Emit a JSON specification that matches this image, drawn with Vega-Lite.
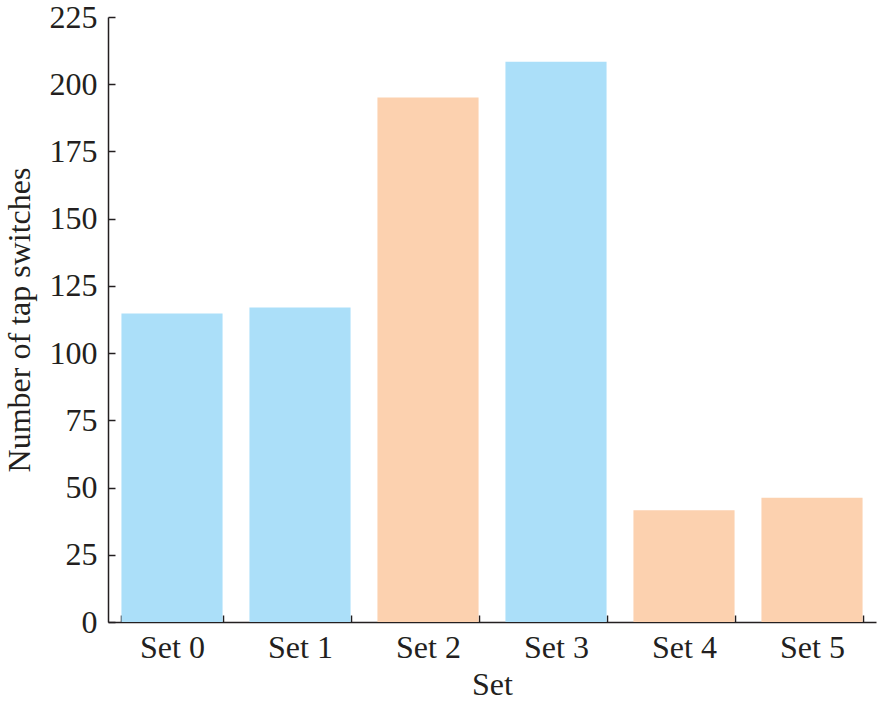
{
  "$schema": "https://vega.github.io/schema/vega-lite/v6.json",
  "width": 768,
  "height": 605,
  "autosize": {"type": "none"},
  "padding": {"left": 108, "top": 17, "right": 1, "bottom": 85},
  "background": "white",
  "config": {
    "view": {"stroke": null},
    "font": "Liberation Serif"
  },
  "data": {
    "values": [
      {"set": "Set 0", "count": 114.7, "group": "A"},
      {"set": "Set 1", "count": 117.0, "group": "A"},
      {"set": "Set 2", "count": 195.1, "group": "B"},
      {"set": "Set 3", "count": 208.4, "group": "A"},
      {"set": "Set 4", "count": 41.6, "group": "B"},
      {"set": "Set 5", "count": 46.2, "group": "B"}
    ]
  },
  "mark": {"type": "bar"},
  "encoding": {
    "x": {
      "field": "set",
      "type": "nominal",
      "title": "Set",
      "scale": {"paddingInner": 0.21, "paddingOuter": 0.105},
      "axis": {
        "labelAngle": 0,
        "labelFont": "Liberation Serif",
        "labelFontSize": 32,
        "labelColor": "#231f20",
        "labelPadding": 17,
        "titleFont": "Liberation Serif",
        "titleFontSize": 32,
        "titleFontWeight": "normal",
        "titleColor": "#231f20",
        "titlePadding": 6,
        "domainColor": "#231f20",
        "domainWidth": 1.5,
        "tickColor": "#231f20",
        "tickWidth": 1.5,
        "tickSize": -7,
        "tickBand": "extent",
        "grid": false
      }
    },
    "y": {
      "field": "count",
      "type": "quantitative",
      "title": "Number of tap switches",
      "scale": {"domain": [0, 225], "nice": false},
      "axis": {
        "values": [0, 25, 50, 75, 100, 125, 150, 175, 200, 225],
        "labelFont": "Liberation Serif",
        "labelFontSize": 32,
        "labelColor": "#231f20",
        "labelPadding": 18,
        "titleFont": "Liberation Serif",
        "titleFontSize": 32,
        "titleFontWeight": "normal",
        "titleColor": "#231f20",
        "titlePadding": 13,
        "domainColor": "#231f20",
        "domainWidth": 1.5,
        "tickColor": "#231f20",
        "tickWidth": 1.5,
        "tickSize": -7,
        "grid": false
      }
    },
    "color": {
      "field": "group",
      "type": "nominal",
      "scale": {"domain": ["A", "B"], "range": ["#abdff9", "#fcd1af"]},
      "legend": null
    }
  }
}
